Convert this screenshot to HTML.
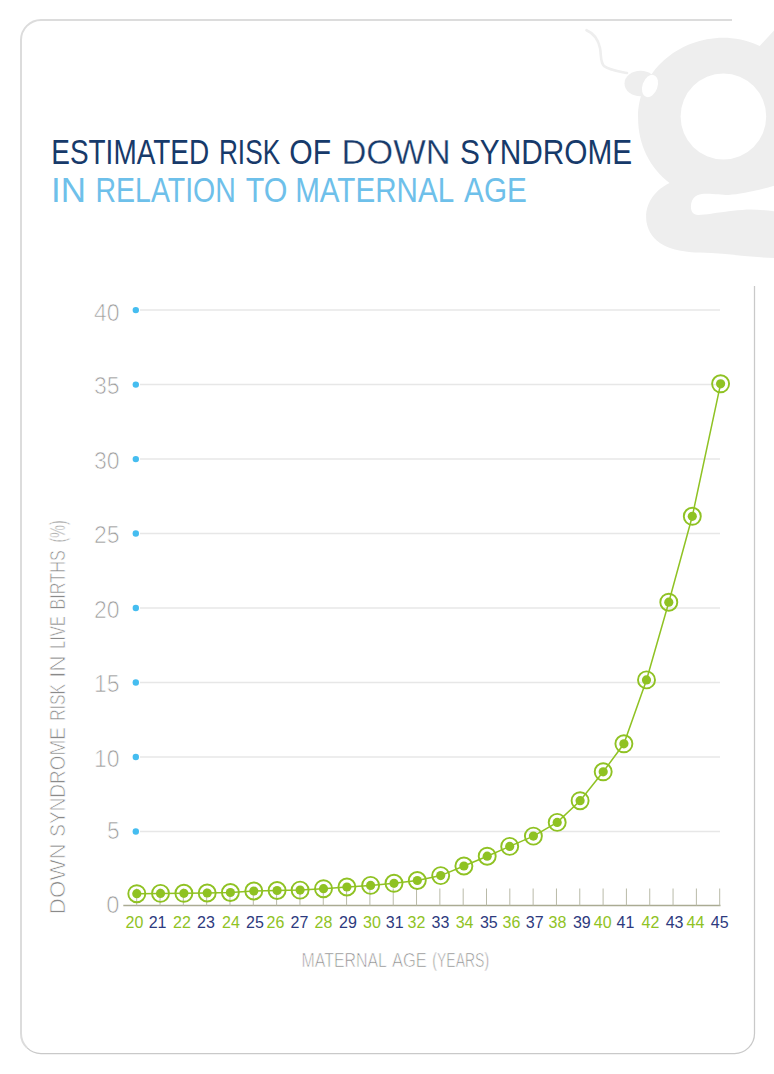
<!DOCTYPE html>
<html><head><meta charset="utf-8"><style>
html,body{margin:0;padding:0;background:#fff;}
body{width:774px;height:1074px;overflow:hidden;}
svg{display:block;}
text{font-family:"Liberation Sans",sans-serif;}
.thin{stroke:#fff;stroke-width:0.7px;paint-order:normal;}
.thin2{stroke:#fff;stroke-width:0.45px;paint-order:normal;}
</style></head><body>
<svg width="774" height="1074" viewBox="0 0 774 1074">
<g fill="#eeeeee">
<path d="M723.5,37.8 C733,37.8 748,40 759.7,46 L774,30.5 L774,258 C750,257.5 725,253 700,252.6 C670,252 650,243 646.5,222 C644,204 655,190 669.5,183 C650,168 638,145 638.1,117.7 C638,72 678,37.8 723.5,37.8 Z"/>
<ellipse cx="723.4" cy="116.5" rx="42.8" ry="43" fill="#fff"/>
<path d="M690.9,206.4 C691,197 698,193.8 704.3,193.7 C715,193.5 722,195 728.6,194.9 C740,194.6 760,190 774,185.8 L774,211.3 C765,210.5 755,209 746.8,209.5 C740,210 735,210.5 728.6,211.3 C715,213 705,215 698.2,214.9 C693,214.8 690.9,211 690.9,206.4 Z" fill="#fff"/>
</g>
<g>
<path d="M586.5,30.2 C593,33 598,38 600,48 C601.5,56 600,62 604,66 C609,70 617,71 627,73" fill="none" stroke="#eeeeee" stroke-width="2.6" stroke-linecap="round"/>
<ellipse cx="640.5" cy="83.5" rx="16" ry="12.8" fill="#eeeeee"/>
<ellipse cx="650" cy="86" rx="7.5" ry="11.5" transform="rotate(20 650 86)" fill="#fff"/>
</g>
<path d="M732,20 L41,20 A20,20 0 0 0 21,40 L21,1033.5 A20,20 0 0 0 26.86,1047.64" fill="none" stroke="#dcdcdc" stroke-width="2"/>
<path d="M26.86,1047.64 A20,20 0 0 0 41,1053.5 L734.5,1053.5 A20,20 0 0 0 754.5,1033.5 L754.5,286" fill="none" stroke="#c9c9c9" stroke-width="1.25"/>
<text x="51.26" y="163.9" font-size="34.5" fill="#173a6a" textLength="157.9" lengthAdjust="spacingAndGlyphs">ESTIMATED</text>
<text x="218.9" y="163.9" font-size="34.5" fill="#173a6a" textLength="61.27" lengthAdjust="spacingAndGlyphs">RISK</text>
<text x="289.34" y="163.9" font-size="34.5" fill="#173a6a" textLength="41.82" lengthAdjust="spacingAndGlyphs">OF</text>
<text x="341.44" y="163.9" font-size="34.5" fill="#173a6a" stroke="#fff" stroke-width="0.35" textLength="109.26" lengthAdjust="spacingAndGlyphs">DOWN</text>
<text x="459.96" y="163.9" font-size="34.5" fill="#173a6a" textLength="172.24" lengthAdjust="spacingAndGlyphs">SYNDROME</text>
<text x="50.96" y="201.6" font-size="35" fill="#6ec0ea" textLength="34.94" lengthAdjust="spacingAndGlyphs">IN</text>
<text x="95.52" y="201.6" font-size="35" fill="#6ec0ea" textLength="140.21" lengthAdjust="spacingAndGlyphs">RELATION</text>
<text x="245.79" y="201.6" font-size="35" fill="#6ec0ea" textLength="41.7" lengthAdjust="spacingAndGlyphs">TO</text>
<text x="295.13" y="201.6" font-size="35" fill="#6ec0ea" textLength="159.0" lengthAdjust="spacingAndGlyphs">MATERNAL</text>
<text x="464.1" y="201.6" font-size="35" fill="#6ec0ea" textLength="62.64" lengthAdjust="spacingAndGlyphs">AGE</text>
<line x1="140" y1="310.10" x2="720" y2="310.10" stroke="#e7e7e7" stroke-width="1.5"/>
<circle cx="135.8" cy="310.10" r="3.2" fill="#45bdf0"/>
<text class="thin" x="94.00" y="320.50" font-size="23" fill="#9c9c9c" textLength="25.6" lengthAdjust="spacingAndGlyphs">40</text>
<line x1="140" y1="384.59" x2="720" y2="384.59" stroke="#e7e7e7" stroke-width="1.5"/>
<circle cx="135.8" cy="384.59" r="3.2" fill="#45bdf0"/>
<text class="thin" x="94.00" y="394.19" font-size="23" fill="#9c9c9c" textLength="25.6" lengthAdjust="spacingAndGlyphs">35</text>
<line x1="140" y1="459.08" x2="720" y2="459.08" stroke="#e7e7e7" stroke-width="1.5"/>
<circle cx="135.8" cy="459.08" r="3.2" fill="#45bdf0"/>
<text class="thin" x="94.00" y="468.68" font-size="23" fill="#9c9c9c" textLength="25.6" lengthAdjust="spacingAndGlyphs">30</text>
<line x1="140" y1="533.57" x2="720" y2="533.57" stroke="#e7e7e7" stroke-width="1.5"/>
<circle cx="135.8" cy="533.57" r="3.2" fill="#45bdf0"/>
<text class="thin" x="94.00" y="543.17" font-size="23" fill="#9c9c9c" textLength="25.6" lengthAdjust="spacingAndGlyphs">25</text>
<line x1="140" y1="608.06" x2="720" y2="608.06" stroke="#e7e7e7" stroke-width="1.5"/>
<circle cx="135.8" cy="608.06" r="3.2" fill="#45bdf0"/>
<text class="thin" x="94.00" y="617.66" font-size="23" fill="#9c9c9c" textLength="25.6" lengthAdjust="spacingAndGlyphs">20</text>
<line x1="140" y1="682.55" x2="720" y2="682.55" stroke="#e7e7e7" stroke-width="1.5"/>
<circle cx="135.8" cy="682.55" r="3.2" fill="#45bdf0"/>
<text class="thin" x="94.00" y="692.15" font-size="23" fill="#9c9c9c" textLength="25.6" lengthAdjust="spacingAndGlyphs">15</text>
<line x1="140" y1="757.04" x2="720" y2="757.04" stroke="#e7e7e7" stroke-width="1.5"/>
<circle cx="135.8" cy="757.04" r="3.2" fill="#45bdf0"/>
<text class="thin" x="94.00" y="766.64" font-size="23" fill="#9c9c9c" textLength="25.6" lengthAdjust="spacingAndGlyphs">10</text>
<line x1="140" y1="831.53" x2="720" y2="831.53" stroke="#e7e7e7" stroke-width="1.5"/>
<circle cx="135.8" cy="831.53" r="3.2" fill="#45bdf0"/>
<text class="thin" x="107.00" y="839.13" font-size="23" fill="#9c9c9c" textLength="12.6" lengthAdjust="spacingAndGlyphs">5</text>
<text class="thin" x="106.20" y="912.50" font-size="23" fill="#9c9c9c" textLength="13.2" lengthAdjust="spacingAndGlyphs">0</text>
<line x1="123.3" y1="905.5" x2="720.5" y2="905.5" stroke="#aaab93" stroke-width="1.4"/>
<line x1="136.70" y1="888.5" x2="136.70" y2="905.5" stroke="#b9baa8" stroke-width="1"/>
<line x1="160.02" y1="888.5" x2="160.02" y2="905.5" stroke="#b9baa8" stroke-width="1"/>
<line x1="183.34" y1="888.5" x2="183.34" y2="905.5" stroke="#b9baa8" stroke-width="1"/>
<line x1="206.66" y1="888.5" x2="206.66" y2="905.5" stroke="#b9baa8" stroke-width="1"/>
<line x1="229.98" y1="888.5" x2="229.98" y2="905.5" stroke="#b9baa8" stroke-width="1"/>
<line x1="253.30" y1="888.5" x2="253.30" y2="905.5" stroke="#b9baa8" stroke-width="1"/>
<line x1="276.62" y1="888.5" x2="276.62" y2="905.5" stroke="#b9baa8" stroke-width="1"/>
<line x1="299.94" y1="888.5" x2="299.94" y2="905.5" stroke="#b9baa8" stroke-width="1"/>
<line x1="323.26" y1="888.5" x2="323.26" y2="905.5" stroke="#b9baa8" stroke-width="1"/>
<line x1="346.58" y1="888.5" x2="346.58" y2="905.5" stroke="#b9baa8" stroke-width="1"/>
<line x1="369.90" y1="888.5" x2="369.90" y2="905.5" stroke="#b9baa8" stroke-width="1"/>
<line x1="393.22" y1="888.5" x2="393.22" y2="905.5" stroke="#b9baa8" stroke-width="1"/>
<line x1="416.54" y1="888.5" x2="416.54" y2="905.5" stroke="#b9baa8" stroke-width="1"/>
<line x1="439.86" y1="888.5" x2="439.86" y2="905.5" stroke="#b9baa8" stroke-width="1"/>
<line x1="463.18" y1="888.5" x2="463.18" y2="905.5" stroke="#b9baa8" stroke-width="1"/>
<line x1="486.50" y1="888.5" x2="486.50" y2="905.5" stroke="#b9baa8" stroke-width="1"/>
<line x1="509.82" y1="888.5" x2="509.82" y2="905.5" stroke="#b9baa8" stroke-width="1"/>
<line x1="533.14" y1="888.5" x2="533.14" y2="905.5" stroke="#b9baa8" stroke-width="1"/>
<line x1="556.46" y1="888.5" x2="556.46" y2="905.5" stroke="#b9baa8" stroke-width="1"/>
<line x1="579.78" y1="888.5" x2="579.78" y2="905.5" stroke="#b9baa8" stroke-width="1"/>
<line x1="603.10" y1="888.5" x2="603.10" y2="905.5" stroke="#b9baa8" stroke-width="1"/>
<line x1="626.42" y1="888.5" x2="626.42" y2="905.5" stroke="#b9baa8" stroke-width="1"/>
<line x1="649.74" y1="888.5" x2="649.74" y2="905.5" stroke="#b9baa8" stroke-width="1"/>
<line x1="673.06" y1="888.5" x2="673.06" y2="905.5" stroke="#b9baa8" stroke-width="1"/>
<line x1="696.38" y1="888.5" x2="696.38" y2="905.5" stroke="#b9baa8" stroke-width="1"/>
<line x1="719.70" y1="888.5" x2="719.70" y2="905.5" stroke="#b9baa8" stroke-width="1"/>
<polyline points="136.8,893.7 160.5,893.4 183.9,893.3 207.2,893.0 230.4,892.5 253.8,891.0 277.1,890.5 300.1,890.1 323.5,888.7 346.9,887.0 370.6,885.4 394.0,883.3 417.3,880.5 440.7,875.6 463.9,866.0 487.2,856.2 509.7,846.4 533.4,836.1 557.2,822.4 580.1,800.7 603.2,771.8 623.9,743.8 646.5,679.9 668.8,602.2 692.3,516.3 720.6,383.8" fill="none" stroke="#8fc223" stroke-width="1.5"/>
<circle cx="136.8" cy="893.7" r="8.5" fill="none" stroke="#8fc223" stroke-width="1.9"/>
<circle cx="136.8" cy="893.7" r="4.6" fill="#8fc223"/>
<circle cx="160.5" cy="893.4" r="8.5" fill="none" stroke="#8fc223" stroke-width="1.9"/>
<circle cx="160.5" cy="893.4" r="4.6" fill="#8fc223"/>
<circle cx="183.9" cy="893.3" r="8.5" fill="none" stroke="#8fc223" stroke-width="1.9"/>
<circle cx="183.9" cy="893.3" r="4.6" fill="#8fc223"/>
<circle cx="207.2" cy="893.0" r="8.5" fill="none" stroke="#8fc223" stroke-width="1.9"/>
<circle cx="207.2" cy="893.0" r="4.6" fill="#8fc223"/>
<circle cx="230.4" cy="892.5" r="8.5" fill="none" stroke="#8fc223" stroke-width="1.9"/>
<circle cx="230.4" cy="892.5" r="4.6" fill="#8fc223"/>
<circle cx="253.8" cy="891.0" r="8.5" fill="none" stroke="#8fc223" stroke-width="1.9"/>
<circle cx="253.8" cy="891.0" r="4.6" fill="#8fc223"/>
<circle cx="277.1" cy="890.5" r="8.5" fill="none" stroke="#8fc223" stroke-width="1.9"/>
<circle cx="277.1" cy="890.5" r="4.6" fill="#8fc223"/>
<circle cx="300.1" cy="890.1" r="8.5" fill="none" stroke="#8fc223" stroke-width="1.9"/>
<circle cx="300.1" cy="890.1" r="4.6" fill="#8fc223"/>
<circle cx="323.5" cy="888.7" r="8.5" fill="none" stroke="#8fc223" stroke-width="1.9"/>
<circle cx="323.5" cy="888.7" r="4.6" fill="#8fc223"/>
<circle cx="346.9" cy="887.0" r="8.5" fill="none" stroke="#8fc223" stroke-width="1.9"/>
<circle cx="346.9" cy="887.0" r="4.6" fill="#8fc223"/>
<circle cx="370.6" cy="885.4" r="8.5" fill="none" stroke="#8fc223" stroke-width="1.9"/>
<circle cx="370.6" cy="885.4" r="4.6" fill="#8fc223"/>
<circle cx="394.0" cy="883.3" r="8.5" fill="none" stroke="#8fc223" stroke-width="1.9"/>
<circle cx="394.0" cy="883.3" r="4.6" fill="#8fc223"/>
<circle cx="417.3" cy="880.5" r="8.5" fill="none" stroke="#8fc223" stroke-width="1.9"/>
<circle cx="417.3" cy="880.5" r="4.6" fill="#8fc223"/>
<circle cx="440.7" cy="875.6" r="8.5" fill="none" stroke="#8fc223" stroke-width="1.9"/>
<circle cx="440.7" cy="875.6" r="4.6" fill="#8fc223"/>
<circle cx="463.9" cy="866.0" r="8.5" fill="none" stroke="#8fc223" stroke-width="1.9"/>
<circle cx="463.9" cy="866.0" r="4.6" fill="#8fc223"/>
<circle cx="487.2" cy="856.2" r="8.5" fill="none" stroke="#8fc223" stroke-width="1.9"/>
<circle cx="487.2" cy="856.2" r="4.6" fill="#8fc223"/>
<circle cx="509.7" cy="846.4" r="8.5" fill="none" stroke="#8fc223" stroke-width="1.9"/>
<circle cx="509.7" cy="846.4" r="4.6" fill="#8fc223"/>
<circle cx="533.4" cy="836.1" r="8.5" fill="none" stroke="#8fc223" stroke-width="1.9"/>
<circle cx="533.4" cy="836.1" r="4.6" fill="#8fc223"/>
<circle cx="557.2" cy="822.4" r="8.5" fill="none" stroke="#8fc223" stroke-width="1.9"/>
<circle cx="557.2" cy="822.4" r="4.6" fill="#8fc223"/>
<circle cx="580.1" cy="800.7" r="8.5" fill="none" stroke="#8fc223" stroke-width="1.9"/>
<circle cx="580.1" cy="800.7" r="4.6" fill="#8fc223"/>
<circle cx="603.2" cy="771.8" r="8.5" fill="none" stroke="#8fc223" stroke-width="1.9"/>
<circle cx="603.2" cy="771.8" r="4.6" fill="#8fc223"/>
<circle cx="623.9" cy="743.8" r="8.5" fill="none" stroke="#8fc223" stroke-width="1.9"/>
<circle cx="623.9" cy="743.8" r="4.6" fill="#8fc223"/>
<circle cx="646.5" cy="679.9" r="8.5" fill="none" stroke="#8fc223" stroke-width="1.9"/>
<circle cx="646.5" cy="679.9" r="4.6" fill="#8fc223"/>
<circle cx="668.8" cy="602.2" r="8.5" fill="none" stroke="#8fc223" stroke-width="1.9"/>
<circle cx="668.8" cy="602.2" r="4.6" fill="#8fc223"/>
<circle cx="692.3" cy="516.3" r="8.5" fill="none" stroke="#8fc223" stroke-width="1.9"/>
<circle cx="692.3" cy="516.3" r="4.6" fill="#8fc223"/>
<circle cx="720.6" cy="383.8" r="8.5" fill="none" stroke="#8fc223" stroke-width="1.9"/>
<circle cx="720.6" cy="383.8" r="4.6" fill="#8fc223"/>
<text x="134.5" y="928" font-size="16" fill="#8fc223" text-anchor="middle">20</text>
<text x="157.6" y="928" font-size="16" fill="#2d3a7e" text-anchor="middle">21</text>
<text x="182.0" y="928" font-size="16" fill="#8fc223" text-anchor="middle">22</text>
<text x="206.0" y="928" font-size="16" fill="#2d3a7e" text-anchor="middle">23</text>
<text x="231.0" y="928" font-size="16" fill="#8fc223" text-anchor="middle">24</text>
<text x="255.0" y="928" font-size="16" fill="#2d3a7e" text-anchor="middle">25</text>
<text x="275.5" y="928" font-size="16" fill="#8fc223" text-anchor="middle">26</text>
<text x="299.4" y="928" font-size="16" fill="#2d3a7e" text-anchor="middle">27</text>
<text x="323.5" y="928" font-size="16" fill="#8fc223" text-anchor="middle">28</text>
<text x="348.0" y="928" font-size="16" fill="#2d3a7e" text-anchor="middle">29</text>
<text x="371.9" y="928" font-size="16" fill="#8fc223" text-anchor="middle">30</text>
<text x="394.7" y="928" font-size="16" fill="#2d3a7e" text-anchor="middle">31</text>
<text x="416.5" y="928" font-size="16" fill="#8fc223" text-anchor="middle">32</text>
<text x="440.5" y="928" font-size="16" fill="#2d3a7e" text-anchor="middle">33</text>
<text x="464.6" y="928" font-size="16" fill="#8fc223" text-anchor="middle">34</text>
<text x="488.8" y="928" font-size="16" fill="#2d3a7e" text-anchor="middle">35</text>
<text x="511.4" y="928" font-size="16" fill="#8fc223" text-anchor="middle">36</text>
<text x="534.7" y="928" font-size="16" fill="#2d3a7e" text-anchor="middle">37</text>
<text x="557.4" y="928" font-size="16" fill="#8fc223" text-anchor="middle">38</text>
<text x="581.8" y="928" font-size="16" fill="#2d3a7e" text-anchor="middle">39</text>
<text x="602.7" y="928" font-size="16" fill="#8fc223" text-anchor="middle">40</text>
<text x="625.5" y="928" font-size="16" fill="#2d3a7e" text-anchor="middle">41</text>
<text x="650.5" y="928" font-size="16" fill="#8fc223" text-anchor="middle">42</text>
<text x="674.6" y="928" font-size="16" fill="#2d3a7e" text-anchor="middle">43</text>
<text x="695.5" y="928" font-size="16" fill="#8fc223" text-anchor="middle">44</text>
<text x="719.7" y="928" font-size="16" fill="#2d3a7e" text-anchor="middle">45</text>
<text class="thin" x="301.53" y="966.9" font-size="20" fill="#8a8a8a" textLength="85.37" lengthAdjust="spacingAndGlyphs">MATERNAL</text>
<text class="thin" x="392.0" y="966.9" font-size="20" fill="#8a8a8a" textLength="34.89" lengthAdjust="spacingAndGlyphs">AGE</text>
<text class="thin" x="432.36" y="966.9" font-size="20" fill="#8a8a8a" textLength="56.7" lengthAdjust="spacingAndGlyphs">(YEARS)</text>
<text class="thin" transform="translate(65.2,912.4) rotate(-90)" x="-1.79" y="0" font-size="22.2" fill="#8a8a8a" textLength="70.91" lengthAdjust="spacingAndGlyphs">DOWN</text>
<text class="thin" transform="translate(65.2,835.8) rotate(-90)" x="-0.85" y="0" font-size="22.2" fill="#8a8a8a" textLength="109.58" lengthAdjust="spacingAndGlyphs">SYNDROME</text>
<text class="thin" transform="translate(65.2,719.5) rotate(-90)" x="-1.26" y="0" font-size="22.2" fill="#8a8a8a" textLength="36.78" lengthAdjust="spacingAndGlyphs">RISK</text>
<text class="thin" transform="translate(65.2,676) rotate(-90)" x="-2.06" y="0" font-size="22.2" fill="#8a8a8a" textLength="22.89" lengthAdjust="spacingAndGlyphs">IN</text>
<text class="thin" transform="translate(65.2,647.7) rotate(-90)" x="-1.2" y="0" font-size="22.2" fill="#8a8a8a" textLength="32.55" lengthAdjust="spacingAndGlyphs">LIVE</text>
<text class="thin" transform="translate(65.2,608.3) rotate(-90)" x="-1.3" y="0" font-size="22.2" fill="#8a8a8a" textLength="59.5" lengthAdjust="spacingAndGlyphs">BIRTHS</text>
<text class="thin" transform="translate(65.2,541.6) rotate(-90)" x="-0.86" y="0" font-size="22.2" fill="#8a8a8a" textLength="22.19" lengthAdjust="spacingAndGlyphs">(%)</text>
</svg>
</body></html>
